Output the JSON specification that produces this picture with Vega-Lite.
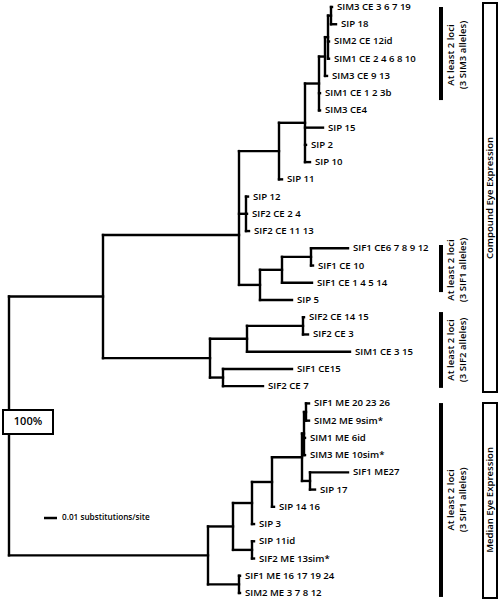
{
  "$schema": "https://vega.github.io/schema/vega-lite/v6.json",
  "width": 499,
  "height": 600,
  "autosize": {"type": "none"},
  "padding": 0,
  "background": "white",
  "config": {"view": {"stroke": null}, "text": {"font": "Open Sans", "color": "black", "fontWeight": 600}},
  "datasets": {
    "edges": [
      {"x": 9, "x2": 103, "y": 17.8, "y2": 17.8},
      {"x": 9, "x2": 208, "y": 32.82, "y2": 32.82},
      {"x": 103, "x2": 239, "y": 14.23, "y2": 14.23},
      {"x": 103, "x2": 210, "y": 21.375, "y2": 21.375},
      {"x": 239, "x2": 279, "y": 9.36, "y2": 9.36},
      {"x": 239, "x2": 246, "y": 13, "y2": 13},
      {"x": 239, "x2": 260, "y": 17.125, "y2": 17.125},
      {"x": 279, "x2": 305, "y": 7.72, "y2": 7.72},
      {"x": 279, "x2": 282, "y": 11, "y2": 11},
      {"x": 305, "x2": 319, "y": 5.44, "y2": 5.44},
      {"x": 305, "x2": 323, "y": 8, "y2": 8},
      {"x": 305, "x2": 306, "y": 9, "y2": 9},
      {"x": 305, "x2": 310, "y": 10, "y2": 10},
      {"x": 319, "x2": 325, "y": 3.875, "y2": 3.875},
      {"x": 319, "x2": 320, "y": 6, "y2": 6},
      {"x": 319, "x2": 320, "y": 7, "y2": 7},
      {"x": 325, "x2": 328, "y": 2.75, "y2": 2.75},
      {"x": 325, "x2": 327, "y": 5, "y2": 5},
      {"x": 328, "x2": 331, "y": 1.5, "y2": 1.5},
      {"x": 328, "x2": 329, "y": 3, "y2": 3},
      {"x": 328, "x2": 329, "y": 4, "y2": 4},
      {"x": 331, "x2": 332, "y": 1, "y2": 1},
      {"x": 331, "x2": 336, "y": 2, "y2": 2},
      {"x": 246, "x2": 248, "y": 12, "y2": 12},
      {"x": 246, "x2": 247, "y": 13, "y2": 13},
      {"x": 246, "x2": 249, "y": 14, "y2": 14},
      {"x": 260, "x2": 282, "y": 16.25, "y2": 16.25},
      {"x": 260, "x2": 292, "y": 18, "y2": 18},
      {"x": 282, "x2": 311, "y": 15.5, "y2": 15.5},
      {"x": 282, "x2": 312, "y": 17, "y2": 17},
      {"x": 311, "x2": 348, "y": 15, "y2": 15},
      {"x": 311, "x2": 313, "y": 16, "y2": 16},
      {"x": 210, "x2": 247, "y": 20.25, "y2": 20.25},
      {"x": 210, "x2": 223, "y": 22.5, "y2": 22.5},
      {"x": 247, "x2": 303, "y": 19.5, "y2": 19.5},
      {"x": 247, "x2": 350, "y": 21, "y2": 21},
      {"x": 303, "x2": 304, "y": 19, "y2": 19},
      {"x": 303, "x2": 308, "y": 20, "y2": 20},
      {"x": 223, "x2": 292, "y": 22, "y2": 22},
      {"x": 223, "x2": 263, "y": 23, "y2": 23},
      {"x": 208, "x2": 233, "y": 31.14, "y2": 31.14},
      {"x": 208, "x2": 239, "y": 34.5, "y2": 34.5},
      {"x": 233, "x2": 252, "y": 29.78, "y2": 29.78},
      {"x": 233, "x2": 252, "y": 32.5, "y2": 32.5},
      {"x": 252, "x2": 272, "y": 28.56, "y2": 28.56},
      {"x": 252, "x2": 254, "y": 31, "y2": 31},
      {"x": 272, "x2": 302, "y": 27.125, "y2": 27.125},
      {"x": 272, "x2": 274, "y": 30, "y2": 30},
      {"x": 302, "x2": 304, "y": 25.75, "y2": 25.75},
      {"x": 302, "x2": 310, "y": 28.5, "y2": 28.5},
      {"x": 304, "x2": 306, "y": 24.5, "y2": 24.5},
      {"x": 304, "x2": 305, "y": 26, "y2": 26},
      {"x": 304, "x2": 305, "y": 27, "y2": 27},
      {"x": 306, "x2": 309, "y": 24, "y2": 24},
      {"x": 306, "x2": 309, "y": 25, "y2": 25},
      {"x": 310, "x2": 348, "y": 28, "y2": 28},
      {"x": 310, "x2": 315, "y": 29, "y2": 29},
      {"x": 252, "x2": 254, "y": 32, "y2": 32},
      {"x": 252, "x2": 254, "y": 33, "y2": 33},
      {"x": 239, "x2": 240, "y": 34, "y2": 34},
      {"x": 239, "x2": 240, "y": 35, "y2": 35},
      {"x": 9, "x2": 9, "y": 17.8, "y2": 32.82},
      {"x": 103, "x2": 103, "y": 14.23, "y2": 21.375},
      {"x": 239, "x2": 239, "y": 9.36, "y2": 17.125},
      {"x": 279, "x2": 279, "y": 7.72, "y2": 11},
      {"x": 305, "x2": 305, "y": 5.44, "y2": 10},
      {"x": 319, "x2": 319, "y": 3.875, "y2": 7},
      {"x": 325, "x2": 325, "y": 2.75, "y2": 5},
      {"x": 328, "x2": 328, "y": 1.5, "y2": 4},
      {"x": 331, "x2": 331, "y": 1, "y2": 2},
      {"x": 246, "x2": 246, "y": 12, "y2": 14},
      {"x": 260, "x2": 260, "y": 16.25, "y2": 18},
      {"x": 282, "x2": 282, "y": 15.5, "y2": 17},
      {"x": 311, "x2": 311, "y": 15, "y2": 16},
      {"x": 210, "x2": 210, "y": 20.25, "y2": 22.5},
      {"x": 247, "x2": 247, "y": 19.5, "y2": 21},
      {"x": 303, "x2": 303, "y": 19, "y2": 20},
      {"x": 223, "x2": 223, "y": 22, "y2": 23},
      {"x": 208, "x2": 208, "y": 31.14, "y2": 34.5},
      {"x": 233, "x2": 233, "y": 29.78, "y2": 32.5},
      {"x": 252, "x2": 252, "y": 28.56, "y2": 31},
      {"x": 272, "x2": 272, "y": 27.125, "y2": 30},
      {"x": 302, "x2": 302, "y": 25.75, "y2": 28.5},
      {"x": 304, "x2": 304, "y": 24.5, "y2": 27},
      {"x": 306, "x2": 306, "y": 24, "y2": 25},
      {"x": 310, "x2": 310, "y": 28, "y2": 29},
      {"x": 252, "x2": 252, "y": 32, "y2": 33},
      {"x": 239, "x2": 239, "y": 34, "y2": 35}
    ],
    "leaves": [
      {"name": "SIM3 CE 3 6 7 19", "x": 332, "y": 1},
      {"name": "SIP 18", "x": 336, "y": 2},
      {"name": "SIM2 CE 12id", "x": 329, "y": 3},
      {"name": "SIM1 CE 2 4 6 8 10", "x": 329, "y": 4},
      {"name": "SIM3 CE 9 13", "x": 327, "y": 5},
      {"name": "SIM1 CE 1 2 3b", "x": 320, "y": 6},
      {"name": "SIM3 CE4", "x": 320, "y": 7},
      {"name": "SIP 15", "x": 323, "y": 8},
      {"name": "SIP 2", "x": 306, "y": 9},
      {"name": "SIP 10", "x": 310, "y": 10},
      {"name": "SIP 11", "x": 282, "y": 11},
      {"name": "SIP 12", "x": 248, "y": 12},
      {"name": "SIF2 CE 2 4", "x": 247, "y": 13},
      {"name": "SIF2 CE 11 13", "x": 249, "y": 14},
      {"name": "SIF1 CE6 7 8 9 12", "x": 348, "y": 15},
      {"name": "SIF1 CE 10", "x": 313, "y": 16},
      {"name": "SIF1 CE 1 4 5 14", "x": 312, "y": 17},
      {"name": "SIP 5", "x": 292, "y": 18},
      {"name": "SIF2 CE 14 15", "x": 304, "y": 19},
      {"name": "SIF2 CE 3", "x": 308, "y": 20},
      {"name": "SIM1 CE 3 15", "x": 350, "y": 21},
      {"name": "SIF1 CE15", "x": 292, "y": 22},
      {"name": "SIF2 CE 7", "x": 263, "y": 23},
      {"name": "SIF1 ME 20 23 26", "x": 309, "y": 24},
      {"name": "SIM2 ME 9sim*", "x": 309, "y": 25},
      {"name": "SIM1 ME 6id", "x": 305, "y": 26},
      {"name": "SIM3 ME 10sim*", "x": 305, "y": 27},
      {"name": "SIF1 ME27", "x": 348, "y": 28},
      {"name": "SIP 17", "x": 315, "y": 29},
      {"name": "SIP 14 16", "x": 274, "y": 30},
      {"name": "SIP 3", "x": 254, "y": 31},
      {"name": "SIP 11id", "x": 254, "y": 32},
      {"name": "SIF2 ME 13sim*", "x": 254, "y": 33},
      {"name": "SIF1 ME 16 17 19 24", "x": 240, "y": 34},
      {"name": "SIM2 ME 3 7 8 12", "x": 240, "y": 35}
    ],
    "bars": [
      {"x": 441, "y": 1, "y2": 6.4},
      {"x": 441, "y": 14.81, "y2": 17.54},
      {"x": 441, "y": 18.7, "y2": 23.1},
      {"x": 441, "y": 23.98, "y2": 35.23}
    ],
    "boxes": [
      {"x": 483, "x2": 497, "y": 0.77, "y2": 23.34},
      {"x": 483, "x2": 497, "y": 23.98, "y2": 35.29},
      {"x": 3, "x2": 53, "y": 24.38, "y2": 25.77}
    ],
    "vlabels": [
      {"text": "At least 2 loci", "x": 451, "y": 3.785},
      {"text": "(3 SIM3 alleles)", "x": 463, "y": 3.785},
      {"text": "At least 2 loci", "x": 451, "y": 16.26},
      {"text": "(3 SIF1 alleles)", "x": 463, "y": 16.26},
      {"text": "At least 2 loci", "x": 451, "y": 20.9},
      {"text": "(3 SIF2 alleles)", "x": 463, "y": 20.9},
      {"text": "At least 2 loci", "x": 451, "y": 29.6},
      {"text": "(3 SIF1 alleles)", "x": 463, "y": 29.6},
      {"text": "Compound Eye Expression", "x": 490, "y": 12.08},
      {"text": "Median Eye Expression", "x": 490, "y": 29.6}
    ],
    "scalebar": [
      {"x": 44, "x2": 57, "y": 30.65, "y2": 30.65, "label": "0.01 substitutions/site"}
    ],
    "support": [
      {"x": 28, "y": 25.08, "label": "100%"}
    ]
  },
  "layer": [
    {
      "data": {"name": "edges"},
      "mark": {"type": "rule", "strokeWidth": 2.4, "strokeCap": "square", "color": "black"},
      "encoding": {
        "x": {"field": "x", "type": "quantitative", "scale": {"domain": [0, 499], "nice": false, "zero": false}, "axis": null},
        "x2": {"field": "x2"},
        "y": {"field": "y", "type": "quantitative", "scale": {"domain": [0.594, 35.407], "nice": false, "zero": false, "reverse": true}, "axis": null},
        "y2": {"field": "y2"}
      }
    },
    {
      "data": {"name": "leaves"},
      "mark": {"type": "text", "align": "left", "baseline": "middle", "dx": 5, "fontSize": 9.6},
      "encoding": {
        "x": {"field": "x", "type": "quantitative"},
        "y": {"field": "y", "type": "quantitative"},
        "text": {"field": "name"}
      }
    },
    {
      "data": {"name": "bars"},
      "mark": {"type": "rule", "strokeWidth": 4, "color": "black"},
      "encoding": {
        "x": {"field": "x", "type": "quantitative"},
        "y": {"field": "y", "type": "quantitative"},
        "y2": {"field": "y2"}
      }
    },
    {
      "data": {"name": "boxes"},
      "mark": {"type": "rect", "fill": "white", "stroke": "black", "strokeWidth": 2},
      "encoding": {
        "x": {"field": "x", "type": "quantitative"},
        "x2": {"field": "x2"},
        "y": {"field": "y", "type": "quantitative"},
        "y2": {"field": "y2"}
      }
    },
    {
      "data": {"name": "vlabels"},
      "mark": {"type": "text", "angle": 270, "align": "center", "baseline": "middle", "fontSize": 9.6},
      "encoding": {
        "x": {"field": "x", "type": "quantitative"},
        "y": {"field": "y", "type": "quantitative"},
        "text": {"field": "text"}
      }
    },
    {
      "data": {"name": "scalebar"},
      "mark": {"type": "rule", "strokeWidth": 2.5, "color": "black"},
      "encoding": {
        "x": {"field": "x", "type": "quantitative"},
        "x2": {"field": "x2"},
        "y": {"field": "y", "type": "quantitative"},
        "y2": {"field": "y2"}
      }
    },
    {
      "data": {"name": "scalebar"},
      "mark": {"type": "text", "align": "left", "baseline": "middle", "dx": 5, "fontSize": 8.2},
      "encoding": {
        "x": {"field": "x2", "type": "quantitative"},
        "y": {"field": "y", "type": "quantitative"},
        "text": {"field": "label"}
      }
    },
    {
      "data": {"name": "support"},
      "mark": {"type": "text", "align": "center", "baseline": "middle", "fontSize": 11},
      "encoding": {
        "x": {"field": "x", "type": "quantitative"},
        "y": {"field": "y", "type": "quantitative"},
        "text": {"field": "label"}
      }
    }
  ]
}
